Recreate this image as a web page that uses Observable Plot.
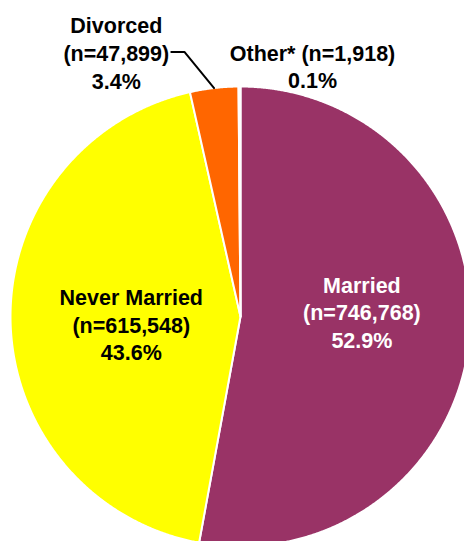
<!DOCTYPE html>
<html><head><meta charset="utf-8">
<script src="https://cdn.jsdelivr.net/npm/d3@7"></script>
<script src="https://cdn.jsdelivr.net/npm/@observablehq/plot@0.6"></script>
<style>html,body{margin:0;padding:0;background:#fff;overflow:hidden}</style>
</head><body><div id="chart"></div>
<script>
// ---- data ----
const categories = ["Married", "Never Married", "Divorced", "Other*"];
const counts = [746768, 615548, 47899, 1918];
const percentLabels = ["52.9%", "43.6%", "3.4%", "0.1%"];

// ---- derived geometry (from data) ----
const rows = categories.map((c, i) => ({cat: c, count: counts[i], pct: percentLabels[i]}));
const pie = d3.pie().sort(null).value(d => d.count)(rows);
const step = Math.PI / 720;
const slicePts = pie.flatMap(p => {
  const pts = [{cat: p.data.cat, x: 0, y: 0}];
  const n = Math.max(2, Math.ceil((p.endAngle - p.startAngle) / step));
  for (let k = 0; k <= n; k++) {
    const a = p.startAngle + (p.endAngle - p.startAngle) * k / n;
    pts.push({cat: p.data.cat, x: Math.sin(a), y: Math.cos(a)});
  }
  return pts;
});
const fmt = d3.format(",");
const mid = p => (p.startAngle + p.endAngle) / 2;
const at = (p, r) => ({x: r * Math.sin(mid(p)), y: r * Math.cos(mid(p))});

// labels
const married = {...at(pie[0], 0.53), text: `${rows[0].cat}\n(n=${fmt(rows[0].count)})\n${rows[0].pct}`};
const never = {...at(pie[1], 0.475), text: `${rows[1].cat}\n(n=${fmt(rows[1].count)})\n${rows[1].pct}`};
const edge = at(pie[2], 1);
const elbow = {x: edge.x - 0.129, y: edge.y + 0.157};
const tail = {x: elbow.x - 0.057, y: elbow.y};
const leader = [edge, elbow, tail];
const divorced = {...tail, text: `${rows[2].cat}\n(n=${fmt(rows[2].count)})\n${rows[2].pct}`};
const other = {...at(pie[3], 1), text: `${rows[3].cat} (n=${fmt(rows[3].count)})\n${rows[3].pct}`};

const font = {fontFamily: "Liberation Sans, Arial, sans-serif", fontWeight: "bold", fontSize: 21.5, lineHeight: 1.29};

const chart = Plot.plot({
  width: 464,
  height: 541,
  margin: 0,
  x: {domain: [-1, 1], range: [10, 470], axis: null},
  y: {domain: [-1, 1], range: [546, 86], axis: null},
  color: {domain: categories, range: ["#993366", "#FFFF00", "#FF6600", "#99CCFF"]},
  marks: [
    Plot.line(slicePts, {x: "x", y: "y", z: "cat", fill: "cat", stroke: "white", strokeWidth: 2, curve: "linear-closed"}),
    Plot.line(leader, {x: "x", y: "y", stroke: "black", strokeWidth: 2}),
    Plot.text([married], {x: "x", y: "y", text: "text", fill: "white", dy: -16, ...font}),
    Plot.text([never], {x: "x", y: "y", text: "text", fill: "black", dy: 5, ...font}),
    Plot.text([divorced], {x: "x", y: "y", text: "text", fill: "black", dx: -55, ...font}),
    Plot.text([other], {x: "x", y: "y", text: "text", fill: "black", dx: 73, dy: -21, ...font})
  ]
});
document.getElementById("chart").append(chart);
</script>
</body></html>
